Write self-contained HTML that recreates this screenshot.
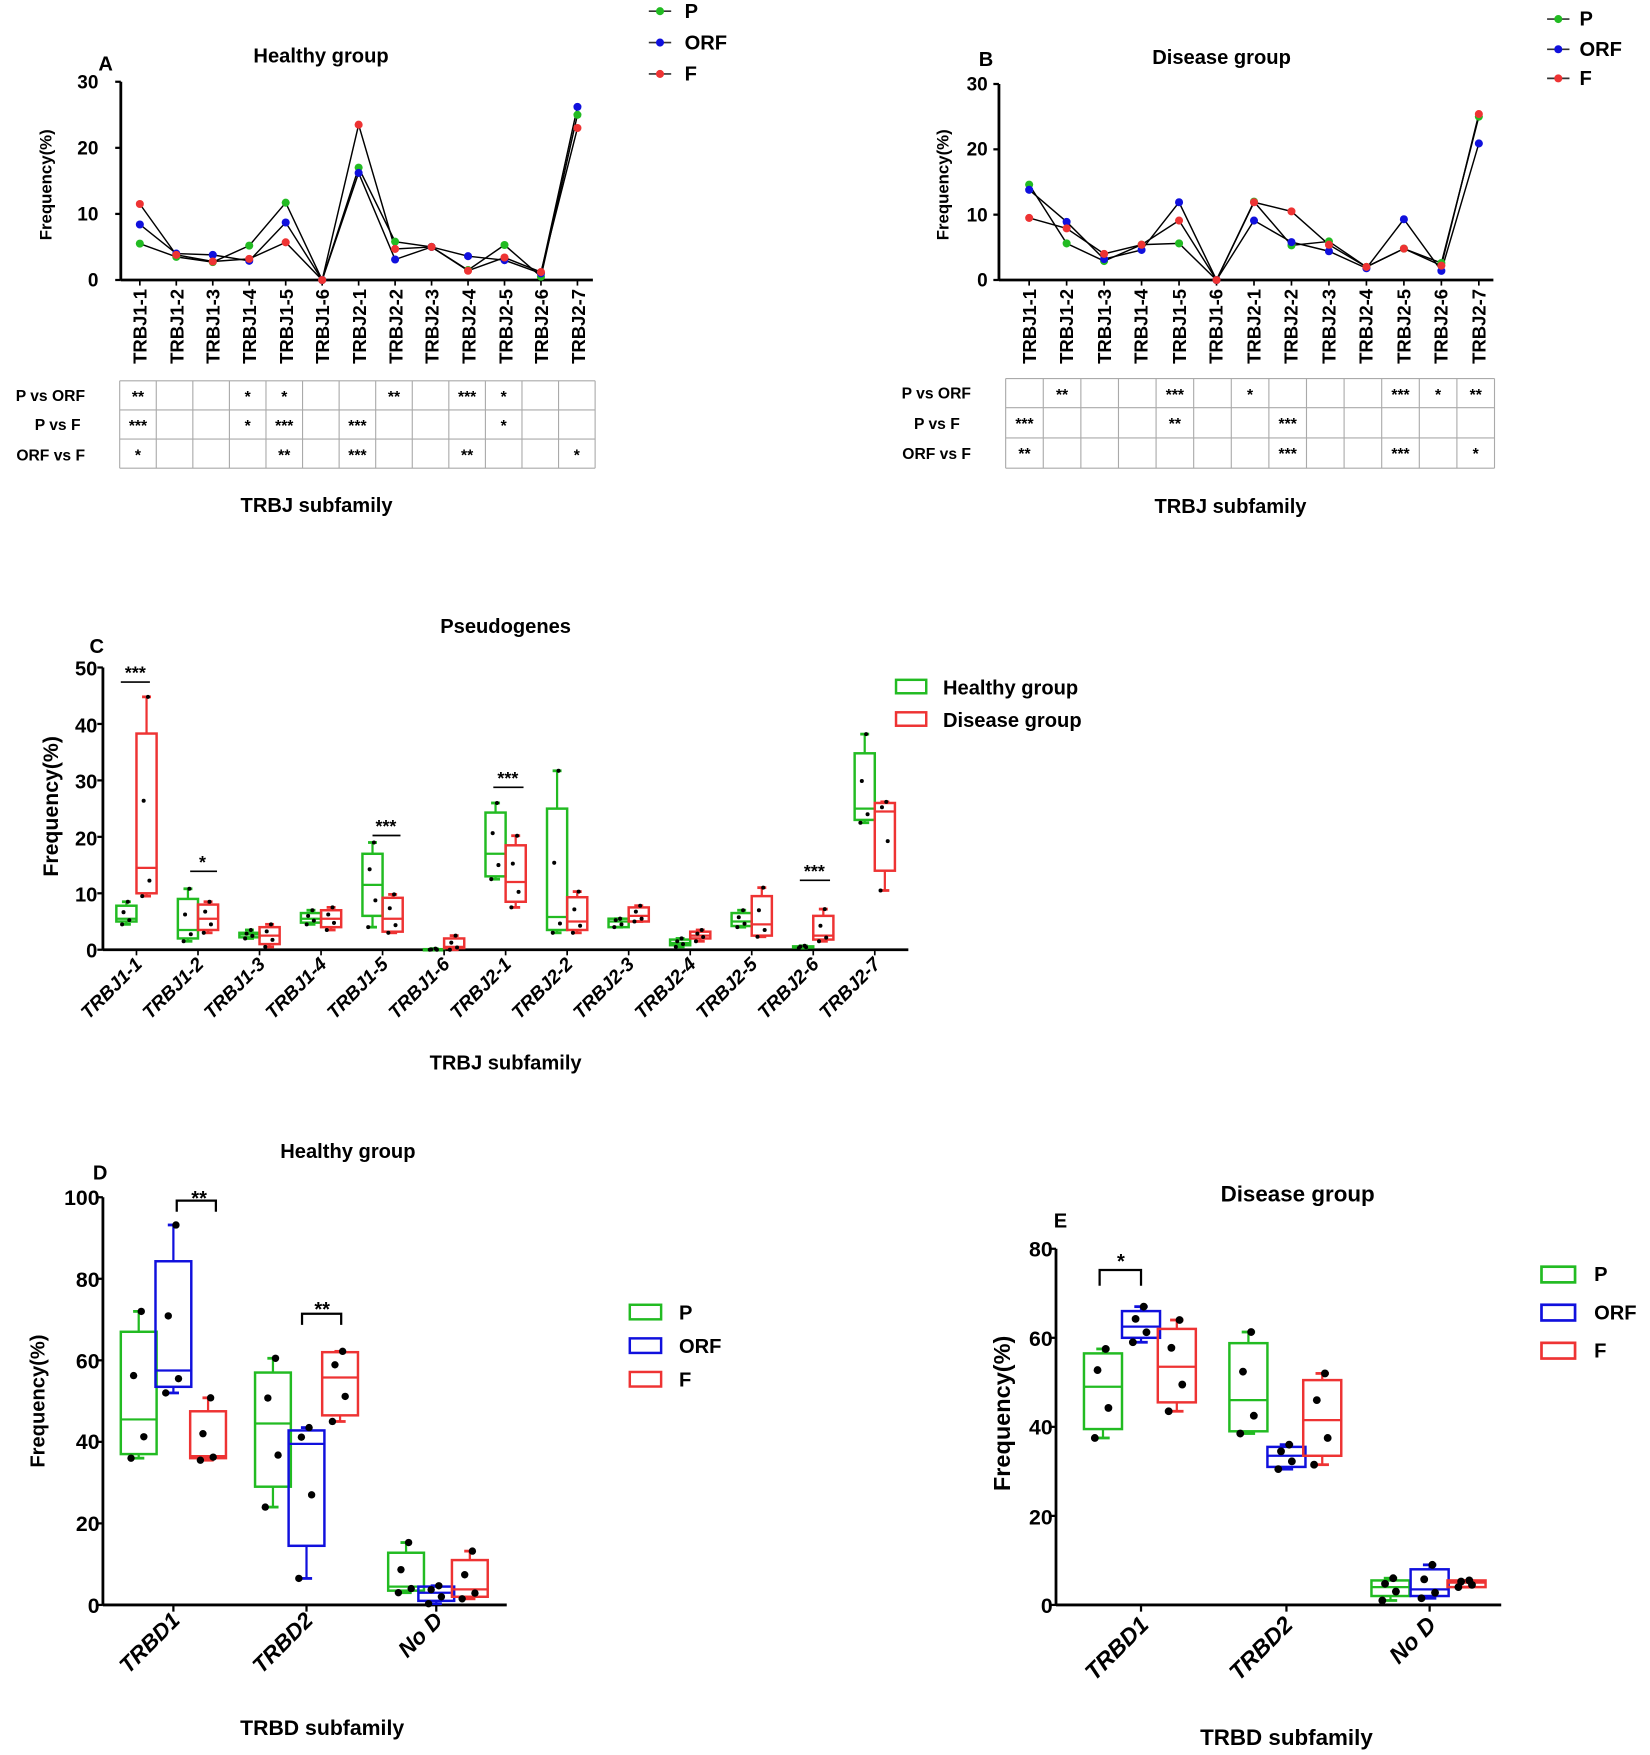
<!DOCTYPE html>
<html><head><meta charset="utf-8"><style>
html,body{margin:0;padding:0;background:#fff}
svg{display:block}
text{font-family:"Liberation Sans",sans-serif;font-weight:bold;fill:#000}
.n{font-family:"Liberation Sans Narrow","Liberation Sans",sans-serif}
.t{font-size:18px}.k{font-size:16px}.s{font-size:14px}.i{font-style:italic}
</style></head><body>
<svg id="s" width="1650" height="1755" viewBox="0 0 1475 1567" preserveAspectRatio="none" xmlns="http://www.w3.org/2000/svg">
<g id="shapes"></g>
<!-- Panel A -->
<text x="88" y="63" class="t n">A</text>
<text x="287" y="56" class="t n" text-anchor="middle">Healthy group</text>
<text x="612" y="16" class="t n">P</text><text x="612" y="44" class="t n">ORF</text><text x="612" y="72" class="t n">F</text>
<g class="n" text-anchor="end" style="font-size:17px"><text x="88" y="79">30</text><text x="88" y="138">20</text><text x="88" y="197">10</text><text x="88" y="256">0</text></g>
<text transform="translate(46,165) rotate(-90)" style="font-size:15px" text-anchor="middle">Frequency(%)</text>
<g style="font-size:16.5px" text-anchor="end">
<text transform="translate(131,258) rotate(-90)">TRBJ1-1</text><text transform="translate(164,258) rotate(-90)">TRBJ1-2</text><text transform="translate(196,258) rotate(-90)">TRBJ1-3</text><text transform="translate(229,258) rotate(-90)">TRBJ1-4</text><text transform="translate(262,258) rotate(-90)">TRBJ1-5</text><text transform="translate(294,258) rotate(-90)">TRBJ1-6</text><text transform="translate(327,258) rotate(-90)">TRBJ2-1</text><text transform="translate(360,258) rotate(-90)">TRBJ2-2</text><text transform="translate(392,258) rotate(-90)">TRBJ2-3</text><text transform="translate(425,258) rotate(-90)">TRBJ2-4</text><text transform="translate(458,258) rotate(-90)">TRBJ2-5</text><text transform="translate(490,258) rotate(-90)">TRBJ2-6</text><text transform="translate(523,258) rotate(-90)">TRBJ2-7</text>
</g>
<g class="s n" text-anchor="end"><text x="76" y="358">P vs ORF</text><text x="72" y="384">P vs F</text><text x="76" y="411">ORF vs F</text></g>
<g id="starsA" class="s n" text-anchor="middle"></g>
<text x="283" y="457" class="t n" text-anchor="middle">TRBJ subfamily</text>
<!-- Panel B -->
<text x="875" y="59" class="t n">B</text>
<text x="1092" y="57" class="t n" text-anchor="middle">Disease group</text>
<text x="1412" y="23" class="t n">P</text><text x="1412" y="50" class="t n">ORF</text><text x="1412" y="76" class="t n">F</text>
<g class="n" text-anchor="end" style="font-size:17px"><text x="883" y="81">30</text><text x="883" y="139">20</text><text x="883" y="198">10</text><text x="883" y="256">0</text></g>
<text transform="translate(848,165) rotate(-90)" style="font-size:15px" text-anchor="middle">Frequency(%)</text>
<g style="font-size:16.5px" text-anchor="end">
<text transform="translate(926,258) rotate(-90)">TRBJ1-1</text><text transform="translate(959,258) rotate(-90)">TRBJ1-2</text><text transform="translate(993,258) rotate(-90)">TRBJ1-3</text><text transform="translate(1026,258) rotate(-90)">TRBJ1-4</text><text transform="translate(1060,258) rotate(-90)">TRBJ1-5</text><text transform="translate(1093,258) rotate(-90)">TRBJ1-6</text><text transform="translate(1127,258) rotate(-90)">TRBJ2-1</text><text transform="translate(1160,258) rotate(-90)">TRBJ2-2</text><text transform="translate(1194,258) rotate(-90)">TRBJ2-3</text><text transform="translate(1227,258) rotate(-90)">TRBJ2-4</text><text transform="translate(1261,258) rotate(-90)">TRBJ2-5</text><text transform="translate(1294,258) rotate(-90)">TRBJ2-6</text><text transform="translate(1328,258) rotate(-90)">TRBJ2-7</text>
</g>
<g class="s n" text-anchor="end"><text x="868" y="356">P vs ORF</text><text x="858" y="383">P vs F</text><text x="868" y="410">ORF vs F</text></g>
<g id="starsB" class="s n" text-anchor="middle"></g>
<text x="1100" y="458" class="t n" text-anchor="middle">TRBJ subfamily</text>
<!-- Panel C -->
<text x="452" y="565" class="t n" text-anchor="middle">Pseudogenes</text>
<text x="80" y="583" class="t n">C</text>
<g class="n" text-anchor="end" style="font-size:18px"><text x="87" y="603">50</text><text x="87" y="654">40</text><text x="87" y="704">30</text><text x="87" y="755">20</text><text x="87" y="805">10</text><text x="87" y="855">0</text></g>
<text transform="translate(52,720) rotate(-90)" style="font-size:19px" text-anchor="middle">Frequency(%)</text>
<g class="k n" text-anchor="middle"><text x="121" y="606">***</text><text x="181" y="775">*</text><text x="345" y="743">***</text><text x="454" y="700">***</text><text x="728" y="783">***</text></g>
<g class="t n"><text x="843" y="620">Healthy group</text><text x="843" y="649">Disease group</text></g>
<g id="labC" style="font-size:17px" class="i" text-anchor="end"></g>
<text x="452" y="955" class="t n" text-anchor="middle">TRBJ subfamily</text>
<!-- Panel D -->
<text x="311" y="1034" class="t n" text-anchor="middle">Healthy group</text>
<text x="83" y="1053" class="t n">D</text>
<g class="n" text-anchor="end" style="font-size:19px"><text x="89" y="1076">100</text><text x="89" y="1149">80</text><text x="89" y="1222">60</text><text x="89" y="1294">40</text><text x="89" y="1367">20</text><text x="89" y="1440">0</text></g>
<text transform="translate(40,1251) rotate(-90)" style="font-size:18px" text-anchor="middle">Frequency(%)</text>
<g class="n" style="font-size:18px" text-anchor="middle"><text x="178" y="1076">**</text><text x="288" y="1175">**</text></g>
<g class="t n"><text x="607" y="1178">P</text><text x="607" y="1208">ORF</text><text x="607" y="1238">F</text></g>
<g class="i" style="font-size:20px" text-anchor="end"><text transform="translate(162,1448) rotate(-45)">TRBD1</text><text transform="translate(281,1448) rotate(-45)">TRBD2</text><text transform="translate(397,1448) rotate(-45)">No D</text></g>
<text x="288" y="1549" class="t n" text-anchor="middle" style="font-size:19px">TRBD subfamily</text>
<!-- Panel E -->
<text x="1160" y="1073" class="t n" text-anchor="middle" style="font-size:20px">Disease group</text>
<text x="942" y="1096" class="t n">E</text>
<g class="n" text-anchor="end" style="font-size:19px"><text x="941" y="1122">80</text><text x="941" y="1202">60</text><text x="941" y="1281">40</text><text x="941" y="1361">20</text><text x="941" y="1440">0</text></g>
<text transform="translate(903,1262) rotate(-90)" style="font-size:21px" text-anchor="middle">Frequency(%)</text>
<text x="1002" y="1132" class="n" style="font-size:18px" text-anchor="middle">*</text>
<g class="t n"><text x="1425" y="1144">P</text><text x="1425" y="1178">ORF</text><text x="1425" y="1212">F</text></g>
<g class="i" text-anchor="end" style="font-size:21px"><text transform="translate(1028,1452) rotate(-45)">TRBD1</text><text transform="translate(1157,1452) rotate(-45)">TRBD2</text><text transform="translate(1285,1452) rotate(-45)">No D</text></g>
<text x="1150" y="1558" class="t n" text-anchor="middle" style="font-size:20px">TRBD subfamily</text>
</svg>
<script>
(function(){
var NS="http://www.w3.org/2000/svg",G=document.getElementById("shapes");
function el(t,a,p){var e=document.createElementNS(NS,t);for(var k in a)e.setAttribute(k,a[k]);(p||G).appendChild(e);return e;}
function ln(x1,y1,x2,y2,c,w){el("line",{x1:x1,y1:y1,x2:x2,y2:y2,stroke:c||"#000","stroke-width":w||2});}
var GR="#22bb22",BL="#1010dd",RD="#ee3333";
function axes(x0,y0,x1,yTop,ticks){ln(x0,y0,x1,y0,"#000",2.5);ln(x0,y0,x0,yTop,"#000",2.5);ticks.forEach(function(y){ln(x0-5,y,x0,y,"#000",2);});}
function linePanel(x0,y0,yTop,x1,xs,series,cols){
 axes(x0,y0,x1,yTop,[0,1,2,3].map(function(i){return y0-(y0-yTop)*i/3;}));
 xs.forEach(function(x){ln(x,y0,x,y0+5,"#000",1.5);});
 var sc=(y0-yTop)/30;
 series.forEach(function(s,j){
  var pts=s.map(function(v,i){return xs[i]+","+(y0-v*sc);}).join(" ");
  el("polyline",{points:pts,fill:"none",stroke:"#000","stroke-width":1.3});
 });
 series.forEach(function(s,j){s.forEach(function(v,i){el("circle",{cx:xs[i],cy:y0-v*sc,r:3.6,fill:cols[j]});});});
}
var xsA=[],xsB=[];for(var i=0;i<13;i++){xsA.push(125+i*32.6);xsB.push(920+i*33.5);}
linePanel(108,250,73,530,xsA,[
 [5.5,3.5,2.7,5.2,11.7,0,17,5.8,5,1.5,5.3,0.5,25],
 [8.4,4,3.8,2.9,8.7,0,16.2,3.1,5,3.6,3,1,26.2],
 [11.5,3.8,2.8,3.2,5.7,0,23.5,4.7,5,1.4,3.4,1.2,23]],[GR,BL,RD]);
linePanel(893,250,75,1335,xsB,[
 [14.6,5.6,2.9,5.4,5.6,0,12,5.3,5.9,2,4.8,2.6,25],
 [13.8,8.9,3.2,4.6,11.9,0,9.1,5.8,4.4,1.8,9.3,1.4,20.9],
 [9.5,7.9,4,5.4,9.1,0,11.9,10.5,5.4,2,4.8,2.2,25.4]],[GR,BL,RD]);
function lleg(x,ys){var c=[GR,BL,RD];ys.forEach(function(y,i){ln(x,y,x+20,y,"#333",1.5);el("circle",{cx:x+10,cy:y,r:3.6,fill:c[i]});});}
lleg(580,[10,38,66]);lleg(1383,[17,44,70]);
function table(x0,x1,ys,rows,gid){
 var n=13,w=(x1-x0)/n,g=document.getElementById(gid);
 ys.forEach(function(y){ln(x0,y,x1,y,"#aaa",1);});
 for(var i=0;i<=n;i++)ln(x0+i*w,ys[0],x0+i*w,ys[ys.length-1],"#aaa",1);
 rows.forEach(function(r,ri){r.forEach(function(s,ci){if(s){var t=el("text",{x:x0+(ci+.5)*w,y:ys[ri]+19},g);t.textContent=s;}});});
}
table(107,532,[340,366,392,418],[
 ["**","","","*","*","","","**","","***","*","",""],
 ["***","","","*","***","","***","","","","*","",""],
 ["*","","","","**","","***","","","**","","","*"]],"starsA");
table(899,1336,[338,364,391,418],[
 ["","**","","","***","","*","","","","***","*","**"],
 ["***","","","","**","","","***","","","","",""],
 ["**","","","","","","","***","","","***","","*"]],"starsB");
function box(cx,w,y0,sc,d,col,cap,pr,pts){
 var Y=function(v){return y0-v*sc;};
 ln(cx,Y(d[0]),cx,Y(d[1]),col,2);ln(cx,Y(d[3]),cx,Y(d[4]),col,2);
 ln(cx-cap,Y(d[0]),cx+cap,Y(d[0]),col,2.5);ln(cx-cap,Y(d[4]),cx+cap,Y(d[4]),col,2.5);
 el("rect",{x:cx-w/2,y:Y(d[3]),width:w,height:Math.max(Y(d[1])-Y(d[3]),1),fill:"none",stroke:col,"stroke-width":2.2});
 ln(cx-w/2,Y(d[2]),cx+w/2,Y(d[2]),col,2);
 var p=pts||[d[0],(d[1]+d[2])/2,(d[2]+d[3])/2,d[4]];
 p.forEach(function(v,i){el("circle",{cx:cx+[-3,2,-2,1][i]*w/14,cy:Y(v),r:pr,fill:"#000"});});
}
var y0C=848,scC=(848-596)/50;
axes(92,y0C,812,596,[0,1,2,3,4,5].map(function(i){return y0C-i*10*scC;}));
var Cg=[[4.5,5,5.5,7.8,8.5],[1.5,2,3.5,9,10.8],[2,2.2,2.7,3,3.5],[4.5,4.8,5.5,6.5,7],[4,6,11.5,17,19],[0,0,0,0.1,0.2],[12.5,13,17,24.3,26],[3,3.5,5.8,25,31.7],[4,4,5,5.5,5.5],[0.5,0.8,1.2,1.8,2],[4,4.2,5,6.5,7],[0.3,0.4,0.5,0.6,0.7],[22.5,23,25,34.8,38.2]];
var Cr=[[9.5,10,14.5,38.3,44.8],[3,3.5,5.5,8,8.5],[0.5,1,2.5,4,4.5],[3.5,4,5.5,7,7.5],[3,3.2,5.5,9.2,9.8],[0,0.3,0.5,2,2.5],[7.5,8.5,12,18.5,20.2],[3,3.5,5,9.3,10.3],[5,5,6,7.5,7.8],[1.5,2,2.5,3.2,3.5],[2.3,2.5,4.5,9.5,11],[1.5,1.8,2.5,6,7.2],[10.5,14,24.5,26,26.2]];
var lc=document.getElementById("labC"),names=["TRBJ1-1","TRBJ1-2","TRBJ1-3","TRBJ1-4","TRBJ1-5","TRBJ1-6","TRBJ2-1","TRBJ2-2","TRBJ2-3","TRBJ2-4","TRBJ2-5","TRBJ2-6","TRBJ2-7"];
for(var i=0;i<13;i++){var gx=113+i*55,rx=131+i*55;
 box(gx,18,y0C,scC,Cg[i],GR,4,1.8);box(rx,18,y0C,scC,Cr[i],RD,4,1.8);
 ln(122+i*55,y0C,122+i*55,y0C+5,"#000",1.5);
 var t=el("text",{transform:"translate("+(128+i*55)+",862) rotate(-45)"},lc);t.textContent=names[i];}
[[108,134,609],[170,194,778],[333,358,746],[441,468,703],[715,742,786]].forEach(function(a){ln(a[0],a[2],a[1],a[2],"#000",1.5);});
el("rect",{x:801,y:607,width:27,height:12,fill:"none",stroke:GR,"stroke-width":2.2});
el("rect",{x:801,y:636,width:27,height:12,fill:"none",stroke:RD,"stroke-width":2.2});
var y0D=1433,scD=(1433-1069)/100;
axes(92,y0D,453,1069,[0,1,2,3,4,5].map(function(i){return y0D-i*20*scD;}));
var D=[[[36,37,45.5,67,72],[52,53.5,57.5,84.3,93.2],[35.5,36,36.5,47.5,50.8]],
 [[24,29,44.5,57,60.5],[6.5,14.5,39.5,42.8,43.5],[45,46.5,55.8,62,62.2]],
 [[3,3.5,4.5,12.8,15.3],[0.3,1,3,4.5,4.7],[1.5,2,3.8,11,13.2]]];
var Dx=[[124,155,186],[244,274,304],[363,390,420]],cols=[GR,BL,RD];
D.forEach(function(g,gi){ln(Dx[gi][1],y0D,Dx[gi][1],y0D+6,"#000",2);g.forEach(function(d,j){box(Dx[gi][j],32,y0D,scD,d,cols[j],5,3.3);});});
function br(x1,x2,y,h){el("polyline",{points:x1+","+(y+h)+" "+x1+","+y+" "+x2+","+y+" "+x2+","+(y+h),fill:"none",stroke:"#000","stroke-width":2});}
br(158,193,1072,10);br(270,305,1173,10);
[1172,1202,1232].forEach(function(y,i){el("rect",{x:563,y:y-7,width:28,height:13,fill:"none",stroke:cols[i],"stroke-width":2.2});});
var y0E=1433,scE=(1433-1115)/80;
axes(944,y0E,1342,1115,[0,1,2,3,4].map(function(i){return y0E-i*20*scE;}));
var E=[[[37.5,39.5,49,56.5,57.5],[59,60,62.5,66,67],[43.5,45.5,53.5,62,64]],
 [[38.5,39,46,58.8,61.3],[30.5,31,33.5,35.5,36],[31.5,33.5,41.5,50.5,52]],
 [[1,2,4,5.5,6],[1.5,2,3.5,8,9],[4,4,5,5.5,5.5]]];
var Ex=[[986,1020,1052],[1116,1150,1182],[1243,1278,1311]];
E.forEach(function(g,gi){ln(Ex[gi][1],y0E,Ex[gi][1],y0E+6,"#000",2);g.forEach(function(d,j){box(Ex[gi][j],34,y0E,scE,d,cols[j],6,3.5);});});
br(983,1020,1134,14);
[1138,1172,1206].forEach(function(y,i){el("rect",{x:1378,y:y-7,width:30,height:14,fill:"none",stroke:cols[i],"stroke-width":2.4});});
})();
</script>
</body></html>
